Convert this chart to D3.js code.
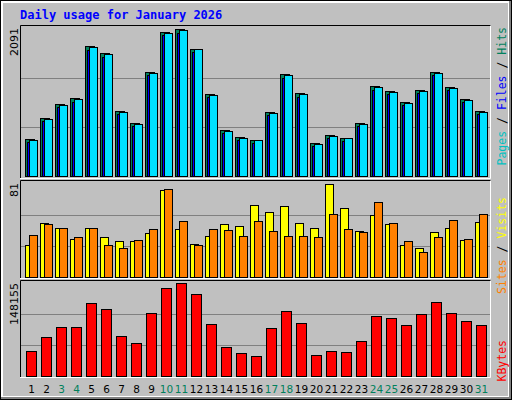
<!DOCTYPE html>
<html>
<head>
<meta charset="utf-8">
<script src="https://cdn.jsdelivr.net/npm/d3@7"></script>
<style>
  body { margin: 0; background: #fff; }
</style>
</head>
<body>
<div id="chart-area"></div>
<script>
// daily values
var days = d3.range(1, 32);
var weekend = [3, 4, 10, 11, 17, 18, 24, 25, 31];
var hits = [522, 825, 1024, 1105, 1845, 1750, 925, 754, 1484, 2048, 2091, 1806, 1166, 654, 555, 512,
            910, 1451, 1176, 469, 583, 540, 754, 1280, 1209, 1053, 1223, 1479, 1266, 1095, 925];
var files = [480, 780, 975, 1050, 1790, 1690, 880, 710, 1440, 2000, 2040, 1760, 1120, 610, 515, 470,
             865, 1400, 1130, 430, 540, 500, 710, 1230, 1160, 1010, 1180, 1430, 1220, 1050, 880];
var pages = [508, 811, 1010, 1090, 1830, 1735, 911, 740, 1470, 2034, 2077, 1806, 1152, 640, 541, 512,
             896, 1437, 1162, 455, 569, 540, 740, 1266, 1195, 1039, 1209, 1465, 1252, 1081, 911];
var visits = [28, 47, 43, 33, 43, 35, 31, 31, 38, 76, 42, 29, 36, 46, 44, 63,
              57, 62, 47, 43, 81, 60, 40, 54, 46, 28, 25, 39, 43, 32, 48];
var sites = [37, 46, 43, 35, 43, 28, 25, 32, 42, 77, 49, 28, 42, 41, 36, 49,
             40, 36, 36, 35, 55, 42, 39, 65, 47, 31, 22, 35, 50, 33, 55];
var kbytes = [39827, 62130, 78060, 78060, 116293, 106735, 63723, 52571, 100362, 140189, 148155, 130630,
              82839, 46198, 36640, 31861, 76467, 103548, 84432, 33454, 39827, 38234, 55757, 95584,
              92398, 81246, 98769, 117886, 100362, 87619, 81246];

var W = 512, H = 400;
var svg = d3.select("#chart-area").append("svg")
    .attr("width", W).attr("height", H);

// frame
svg.append("rect").attr("x", 0).attr("y", 0).attr("width", W).attr("height", H).attr("fill", "#000");
svg.append("rect").attr("x", 1).attr("y", 1).attr("width", W - 2).attr("height", H - 2).attr("fill", "#808080");
svg.append("rect").attr("x", 1).attr("y", 1).attr("width", W - 4).attr("height", H - 4).attr("fill", "#fff");
svg.append("rect").attr("x", 3).attr("y", 3).attr("width", W - 7).attr("height", H - 7).attr("fill", "#c0c0c0");

svg.append("text")
    .attr("x", 20).attr("y", 19)
    .attr("font-family", "DejaVu Sans Mono").attr("font-weight", "bold")
    .attr("font-size", "12px").attr("fill", "#0000ff")
    .text("Daily usage for January 2026");

var x = d3.scaleBand().domain(days).range([20, 485]).paddingInner(0).paddingOuter(0);
var left = 25 - x(1);

var panels = [
  { y0: 25, y1: 179, base: 176, top: 29, max: 2091 },
  { y0: 180, y1: 279, base: 277, top: 184, max: 81 },
  { y0: 280, y1: 378, base: 376, top: 283, max: 148155 }
];

panels.forEach(function(p) {
  p.y = d3.scaleLinear().domain([0, p.max]).range([p.base, p.top]);
  svg.append("rect").attr("x", 20).attr("y", p.y0).attr("width", 471).attr("height", p.y1 - p.y0)
      .attr("fill", "#c0c0c0");
  [1 / 3, 2 / 3].forEach(function(f) {
    svg.append("line").attr("x1", 21).attr("x2", 490)
        .attr("y1", Math.round(p.y(p.max * f)) + 0.5).attr("y2", Math.round(p.y(p.max * f)) + 0.5)
        .attr("stroke", "#808080");
  });
  svg.append("path").attr("d", "M20.5," + (p.y1 - 0.5) + "V" + (p.y0 + 0.5) + "H491")
      .attr("fill", "none").attr("stroke", "#000");
  svg.append("path").attr("d", "M20," + (p.y1 - 0.5) + "H490.5V" + (p.y0 + 0.5))
      .attr("fill", "none").attr("stroke", "#fff");
  svg.append("text")
      .attr("transform", "translate(18," + (p.y0 + 3) + ") rotate(-90)")
      .attr("text-anchor", "end")
      .attr("font-family", "DejaVu Sans").attr("font-size", "11px").attr("fill", "#000")
      .text(p.max);
});

function bars(panel, data, dx, w, color) {
  var p = panels[panel];
  svg.append("g").selectAll("rect").data(data).enter().append("rect")
      .attr("x", function(d, i) { return x(days[i]) + left + dx + 0.5; })
      .attr("y", function(d) { return Math.round(p.y(d)) + 0.5; })
      .attr("width", w)
      .attr("height", function(d) { return p.base - Math.round(p.y(d)); })
      .attr("fill", color).attr("stroke", "#000");
}

bars(0, hits, 0, 9, "#00805c");
bars(0, files, 2, 8, "#0000ff");
bars(0, pages, 4, 8, "#00e0ff");
bars(1, visits, 0, 8, "#ffff00");
bars(1, sites, 4, 8, "#ff8000");
bars(2, kbytes, 1, 10, "#ff0000");

// day labels
svg.append("g").selectAll("text").data(days).enter().append("text")
    .attr("x", function(d) { return x(d) + left + 6.5; })
    .attr("y", 393)
    .attr("text-anchor", "middle")
    .attr("font-family", "DejaVu Sans").attr("font-size", "10.5px")
    .attr("fill", function(d) { return weekend.indexOf(d) >= 0 ? "#00805c" : "#000"; })
    .text(function(d) { return d; });

// legends
function legend(y, parts) {
  var t = svg.append("text")
      .attr("transform", "translate(506," + y + ") rotate(-90)")
      .attr("text-anchor", "end")
      .attr("font-family", "DejaVu Sans Mono").attr("font-size", "11.5px");
  parts.forEach(function(pt) { t.append("tspan").attr("fill", pt[1]).text(pt[0]); });
}
legend(27, [["Pages", "#00c0c0"], [" / ", "#000"], ["Files", "#0000ff"], [" / ", "#000"], ["Hits", "#00805c"]]);
legend(197, [["Sites", "#ff8000"], [" / ", "#000"], ["Visits", "#ffff00"]]);
legend(340, [["KBytes", "#ff0000"]]);
</script>
</body>
</html>
